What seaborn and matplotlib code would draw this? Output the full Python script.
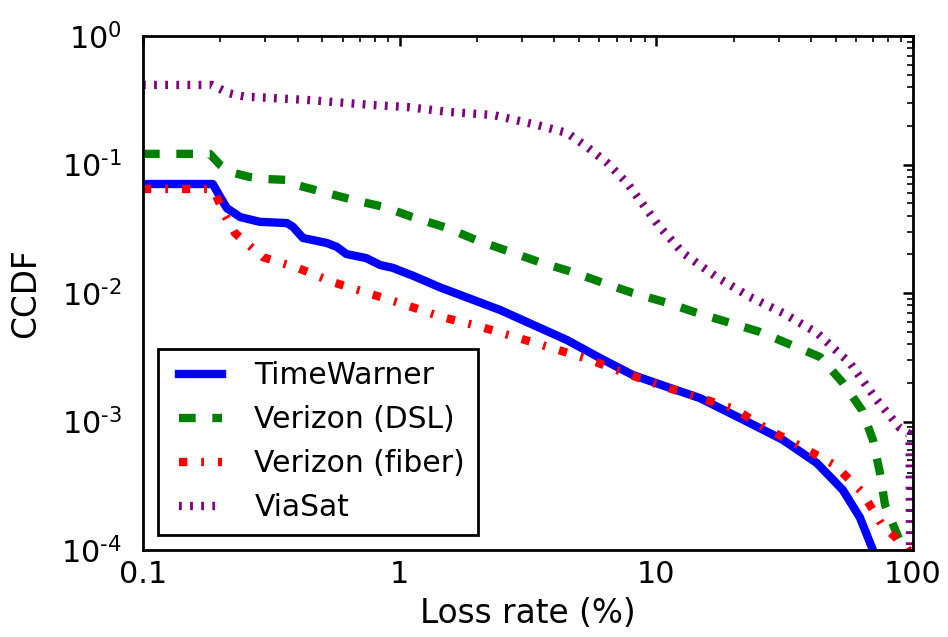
import matplotlib
matplotlib.use("Agg")
import matplotlib.pyplot as plt
from matplotlib.legend_handler import HandlerLine2D
from matplotlib.ticker import FixedLocator, FixedFormatter
import seaborn as sns
import numpy as np
import pandas as pd

# ---- data (loss rate %, CCDF) ----
tw_x = [0.1, 0.187, 0.2, 0.212, 0.239, 0.285, 0.364, 0.384, 0.42, 0.52, 0.57, 0.62,
        0.74, 0.84, 0.94, 1.03, 1.13, 1.43, 2.46, 4.49, 6.03, 8.1, 11.0, 14.8,
        23.2, 31.1, 42.2, 53.3, 62.1, 69.8, 73.2]
tw_y = [0.0705, 0.0705, 0.0558, 0.0458, 0.039, 0.0358, 0.035, 0.0327, 0.0268, 0.0245,
        0.0228, 0.0201, 0.0187, 0.0165, 0.0157, 0.0146, 0.0136, 0.0111, 0.00738,
        0.0043, 0.00312, 0.0023, 0.00186, 0.00152, 0.00097, 0.00072, 0.000475,
        0.000293, 0.000179, 0.0001, 0.000075]

dsl_x = [0.1, 0.182, 0.2, 0.218, 0.26, 0.304, 0.374, 0.397, 0.5, 0.66, 0.87, 1.12,
         1.53, 1.99, 2.64, 3.5, 4.69, 6.2, 8.1, 11.0, 14.1, 25.4, 43.4, 53.3, 63.2,
         69.8, 74.3, 77.8, 87.3, 93.0, 97.0]
dsl_y = [0.121, 0.121, 0.099, 0.0875, 0.08, 0.077, 0.0757, 0.0692, 0.0612, 0.053,
         0.0467, 0.039, 0.0321, 0.0258, 0.0212, 0.0174, 0.0146, 0.012, 0.01, 0.0084,
         0.0071, 0.00497, 0.00318, 0.002, 0.00123, 0.00072, 0.0004, 0.000224,
         0.000128, 0.0001, 0.00006]

fib_x = [0.1, 0.187, 0.196, 0.209, 0.228, 0.293, 0.4, 0.545, 0.75, 1.05, 1.46, 2.02,
         2.81, 3.92, 5.42, 7.55, 10.5, 14.5, 20.2, 27.0, 36.9, 49.6, 63.2, 75.7,
         94.6, 99.0]
fib_y = [0.0645, 0.0645, 0.053, 0.04, 0.0293, 0.019, 0.0157, 0.0122, 0.01, 0.0081,
         0.0065, 0.00553, 0.00455, 0.00373, 0.00306, 0.00238, 0.00189, 0.00155,
         0.00125, 0.000875, 0.000634, 0.000458, 0.000283, 0.000157, 0.000104, 0.00009]

via_x = [0.1, 0.186, 0.2, 0.215, 0.232, 0.255, 0.27, 0.435, 0.79, 1.07, 1.57, 2.31,
         3.43, 4.49, 5.37, 6.43, 7.69, 10.3, 12.7, 14.4, 17.2, 23.2, 31.1, 42.2,
         56.8, 72.3, 88.9, 97.0, 97.5]
via_y = [0.416, 0.416, 0.387, 0.36, 0.347, 0.335, 0.335, 0.318, 0.29, 0.28, 0.256,
         0.243, 0.203, 0.176, 0.137, 0.103, 0.0718, 0.0327, 0.0205, 0.0171, 0.0133,
         0.0093, 0.007, 0.0049, 0.00285, 0.00147, 0.00089, 0.0008, 0.00005]

labels = ["TimeWarner", "Verizon (DSL)", "Verizon (fiber)", "ViaSat"]
xticks = [0.1, 1, 10, 100]
xticklabels = ["0.1", "1", "10", "100"]
yticks = [1e-4, 1e-3, 1e-2, 1e-1, 1]
yexps = [-4, -3, -2, -1, 0]

# ---- style ----
sns.set_style("white")
plt.rcParams.update({
    "font.family": ["DejaVu Sans"],
    "mathtext.default": "regular",
    "lines.scale_dashes": False,
    "lines.dash_capstyle": "butt",
    "lines.solid_capstyle": "projecting",
    "axes.edgecolor": "black",
    "axes.linewidth": 1.0,
    "text.color": "black",
    "axes.labelcolor": "black",
    "xtick.color": "black",
    "ytick.color": "black",
})

fig = plt.figure(figsize=(4.74, 3.185), dpi=200)
ax = fig.add_axes([143/948, 1-550/637, (913-143)/948, (550-36)/637])

series = [(tw_x, tw_y, "#0000ff", "-"),
          (dsl_x, dsl_y, "#008000", (0, (6, 6))),
          (fib_x, fib_y, "#ff0000", (0, (3, 5, 1, 5))),
          (via_x, via_y, "#800080", (0, (1, 3)))]

for (xs, ys, c, ls), lab in zip(series, labels):
    df = pd.DataFrame({"x": xs, "y": ys})
    sns.lineplot(data=df, x="x", y="y", ax=ax, color=c, linestyle=ls, lw=3,
                 label=lab, estimator=None, sort=False)

ax.set_xscale("log")
ax.set_yscale("log")
ax.set_xlim(0.1, 100)
ax.set_ylim(1e-4, 1)
ax.set_xticks(xticks)
ax.set_xticklabels(xticklabels)
ax.yaxis.set_major_locator(FixedLocator(yticks))
ax.yaxis.set_major_formatter(FixedFormatter(
    [r"$10^{\text{" + ("-" if e < 0 else "") + "}" + str(abs(e)) + "}$" for e in yexps]))

fs = 10.9
ax.tick_params(which="both", direction="in", top=True, right=True)
ax.tick_params(which="major", length=3.5, width=0.9)
ax.tick_params(which="minor", length=2, width=0.6)
ax.tick_params(axis="x", which="major", labelsize=fs, pad=3.5)
ax.tick_params(axis="y", which="major", labelsize=fs, pad=7.5)
for s in ax.spines.values():
    s.set_linewidth(1.0)
    s.set_color("black")

ax.set_xlabel("Loss rate (%)", fontsize=11.8, labelpad=3)
ax.set_ylabel("CCDF", fontsize=11.8, labelpad=7)

leg = ax.legend(loc="lower left", fontsize=10.7, frameon=True, fancybox=False,
                edgecolor="black", framealpha=1, handlelength=1.71,
                handletextpad=1.1, labelspacing=0.5, borderpad=0.42,
                borderaxespad=0.52,
                handler_map={matplotlib.lines.Line2D: HandlerLine2D(xpad=0.27)})
leg.get_frame().set_linewidth(1.0)

fig.savefig("out.png", dpi=200)
